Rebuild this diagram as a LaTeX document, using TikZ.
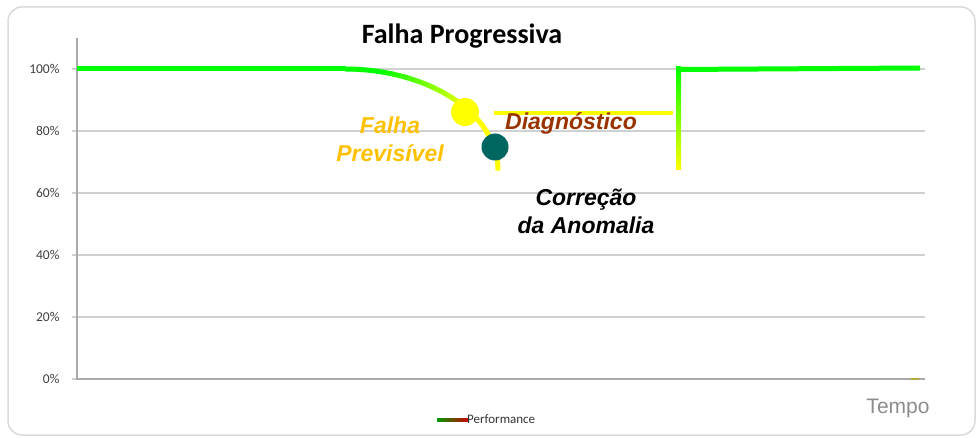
\documentclass[tikz,border=0pt]{standalone}
\usepackage{fontspec}
\setmainfont{Liberation Sans}
\newfontfamily\calibri{Carlito}
\usepackage{tikz}
\definecolor{perfgreen}{RGB}{0,255,0}
\definecolor{perfyellow}{RGB}{255,255,0}
\definecolor{alertorange}{RGB}{255,192,0}
\definecolor{diagbrown}{RGB}{153,51,0}
\definecolor{fixteal}{RGB}{0,102,96}
\definecolor{gridgray}{RGB}{208,208,208}
\definecolor{axisgray}{RGB}{170,170,170}

\begin{document}
\begin{tikzpicture}[x=1pt,y=-1pt]
\useasboundingbox (0,0) rectangle (979,438);
\draw[gridgray!80, line width=1.5pt, rounded corners=14pt] (8,7) rectangle (975,435);

% grid and axis
\begin{scope}[every node/.style={anchor=east,font=\calibri\fontsize{13.5}{13.5}\selectfont,text=black!75}]
\foreach \v in {0,20,40,60,80,100} {
    \pgfmathsetmacro\yy{379-3.1*\v}
    \draw[gridgray, line width=1.2pt] (72,\yy) -- (925,\yy);
    \node (tick\v) at (63,\yy) {\v\%};
}
\draw[axisgray, line width=1.2pt] (77,38) -- (77,379) -- (925,379);
\end{scope}

\node[font=\calibri\bfseries\fontsize{28}{28}\selectfont] (title) at (462,36) {Falha Progressiva};

% performance line
\begin{scope}[line width=5pt]
\draw[perfgreen] (77,69) -- (346,69);
\foreach \a in {0,3,...,87} {
    \pgfmathsetmacro\p{max(0,min(100,100*(52-\a)/40))}
    \draw[perfgreen!\p!perfyellow] plot[domain=\a:\a+3.4, samples=4]
        ({345+153*sin(\x)},{69+101*(1-cos(\x))});
}
\draw[perfyellow, line width=4pt] (494,113) -- (673,113);
\shade[top color=perfgreen, middle color=perfgreen!75!perfyellow, bottom color=perfyellow]
    (676,67) rectangle (681,170);
\draw[perfgreen] (678,69.5) -- (920,68);
\end{scope}

\node[circle, fill=perfyellow, minimum size=28pt, inner sep=0pt] (warn) at (465,112) {};
\node[circle, fill=fixteal, minimum size=27pt, inner sep=0pt] (fix) at (495,147) {};

\begin{scope}[every node/.style={align=center,font=\bfseries\itshape\fontsize{23}{28}\selectfont}]
    \node[text=alertorange] (foresee) at (390,139) {Falha\\Previsível};
    \node[text=diagbrown] (diag) at (571,123) {Diagnóstico};
    \node[text=black] (correct) at (586,211) {Correção\\da Anomalia};
\end{scope}

\node[text=black!45, font=\fontsize{21}{21}\selectfont] (tempo) at (898,408) {Tempo};

% legend
\shade[left color=green!60!black, middle color=perfyellow, right color=red!80!black]
    (437,418) rectangle (468,421);
\node[anchor=west, inner sep=0pt, text=black!80, font=\calibri\fontsize{13}{13}\selectfont] (legend) at (467,419) {Performance};
\draw[olive!70, line width=2pt] (911,379) -- (919,379);
\end{tikzpicture}
\end{document}
